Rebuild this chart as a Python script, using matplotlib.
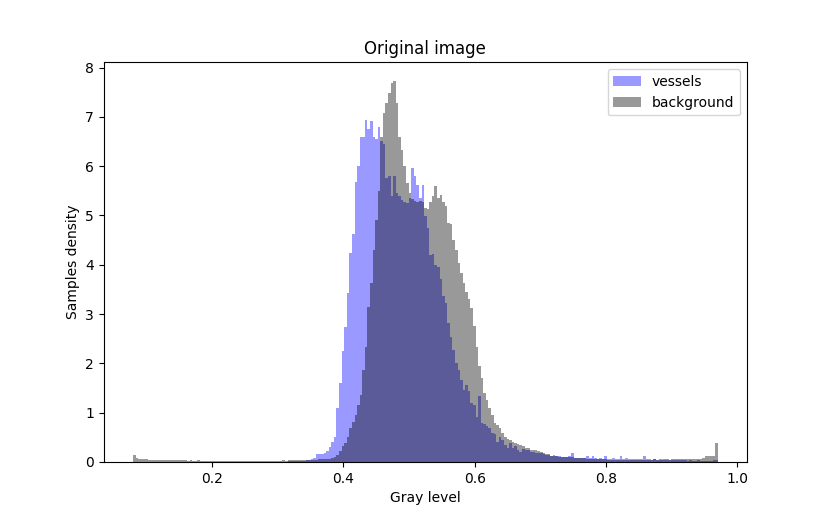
import numpy as np
import matplotlib
matplotlib.use("Agg")
import matplotlib.pyplot as plt

# Histogram bins (gray levels, width ~1/255)
bin_lo = 0.0799
bin_hi = 0.9701
n_bins = 227

background = [
    0.14, 0.08, 0.06, 0.06, 0.05, 0.05, 0.04, 0.04, 0.04, 0.04,
    0.04, 0.03, 0.04, 0.03, 0.03, 0.04, 0.03, 0.03, 0.03, 0.03,
    0.03, 0.02, 0.03, 0.02, 0.02, 0.03, 0.02, 0.02, 0.02, 0.02,
    0.02, 0.02, 0.02, 0.02, 0.02, 0.02, 0.02, 0.02, 0.02, 0.02,
    0.02, 0.02, 0.02, 0.02, 0.02, 0.02, 0.02, 0.02, 0.02, 0.02,
    0.02, 0.02, 0.02, 0.02, 0.02, 0.02, 0.02, 0.02, 0.03, 0.02,
    0.03, 0.03, 0.03, 0.03, 0.03, 0.03, 0.03, 0.04, 0.04, 0.04,
    0.04, 0.04, 0.05, 0.05, 0.05, 0.06, 0.06, 0.08, 0.10, 0.14,
    0.22, 0.32, 0.38, 0.50, 0.68, 0.80, 0.95, 1.15, 1.35, 1.87,
    2.34, 3.15, 3.63, 4.30, 4.90, 5.49, 6.60, 7.08, 7.29, 7.49,
    7.69, 7.72, 7.29, 6.60, 6.33, 6.00, 5.66, 5.46, 5.33, 5.29,
    5.27, 5.30, 5.27, 5.15, 5.12, 5.27, 5.39, 5.59, 5.36, 5.42,
    5.27, 5.20, 4.85, 4.83, 4.50, 4.30, 4.04, 3.83, 3.63, 3.45,
    3.30, 3.12, 2.75, 2.34, 1.94, 1.70, 1.40, 1.25, 1.10, 0.95,
    0.79, 0.75, 0.69, 0.59, 0.51, 0.47, 0.45, 0.41, 0.38, 0.36,
    0.34, 0.33, 0.29, 0.28, 0.25, 0.25, 0.24, 0.23, 0.20, 0.19,
    0.17, 0.16, 0.12, 0.12, 0.12, 0.10, 0.10, 0.09, 0.09, 0.09,
    0.09, 0.07, 0.07, 0.07, 0.07, 0.07, 0.05, 0.05, 0.05, 0.05,
    0.05, 0.05, 0.05, 0.05, 0.04, 0.04, 0.04, 0.04, 0.04, 0.04,
    0.04, 0.04, 0.04, 0.04, 0.04, 0.04, 0.04, 0.04, 0.04, 0.04,
    0.04, 0.04, 0.05, 0.04, 0.05, 0.04, 0.05, 0.05, 0.04, 0.05,
    0.05, 0.05, 0.05, 0.06, 0.05, 0.06, 0.06, 0.06, 0.06, 0.06,
    0.06, 0.07, 0.11, 0.11, 0.12, 0.11, 0.39,
]

vessels = [
    0.0, 0.0, 0.0, 0.0, 0.0, 0.0, 0.0, 0.0, 0.0, 0.0,
    0.0, 0.0, 0.0, 0.0, 0.0, 0.0, 0.0, 0.0, 0.0, 0.0,
    0.0, 0.0, 0.0, 0.0, 0.0, 0.0, 0.0, 0.0, 0.0, 0.0,
    0.0, 0.0, 0.0, 0.0, 0.0, 0.0, 0.0, 0.0, 0.0, 0.0,
    0.0, 0.0, 0.0, 0.0, 0.0, 0.0, 0.0, 0.0, 0.0, 0.0,
    0.005, 0.005, 0.005, 0.005, 0.005, 0.005, 0.005, 0.005, 0.005, 0.005,
    0.01, 0.01, 0.01, 0.01, 0.01, 0.02, 0.02, 0.04, 0.04, 0.05,
    0.08, 0.16, 0.16, 0.17, 0.18, 0.22, 0.30, 0.40, 0.50, 1.10,
    1.60, 2.25, 2.74, 3.43, 4.24, 4.63, 5.67, 6.00, 6.60, 6.60,
    6.94, 6.75, 6.92, 6.60, 6.55, 6.80, 6.50, 6.45, 5.75, 5.80,
    5.40, 5.80, 5.45, 5.40, 5.32, 5.28, 5.25, 5.35, 5.97, 5.80,
    5.62, 5.35, 5.62, 4.98, 4.75, 4.20, 4.22, 4.00, 3.95, 3.70,
    3.36, 3.22, 2.82, 2.54, 2.27, 2.00, 1.87, 1.66, 1.46, 1.55,
    1.43, 1.19, 1.15, 0.92, 1.33, 0.79, 0.76, 0.72, 0.69, 0.59,
    0.56, 0.41, 0.51, 0.45, 0.35, 0.28, 0.38, 0.28, 0.33, 0.24,
    0.21, 0.26, 0.25, 0.24, 0.20, 0.20, 0.19, 0.19, 0.18, 0.17,
    0.14, 0.14, 0.13, 0.14, 0.12, 0.12, 0.10, 0.10, 0.10, 0.12,
    0.18, 0.08, 0.07, 0.08, 0.07, 0.07, 0.12, 0.07, 0.12, 0.07,
    0.06, 0.07, 0.06, 0.12, 0.06, 0.06, 0.07, 0.06, 0.06, 0.11,
    0.06, 0.07, 0.05, 0.06, 0.05, 0.06, 0.05, 0.06, 0.12, 0.05,
    0.05, 0.04, 0.05, 0.04, 0.04, 0.05, 0.04, 0.03, 0.04, 0.03,
    0.03, 0.03, 0.04, 0.03, 0.03, 0.02, 0.03, 0.02, 0.02, 0.03,
    0.02, 0.02, 0.02, 0.02, 0.02, 0.03, 0.04,
]

labels = ["vessels", "background"]

edges = np.linspace(bin_lo, bin_hi, n_bins + 1)
centers = 0.5 * (edges[:-1] + edges[1:])

fig, ax = plt.subplots(figsize=(8.3, 5.19), dpi=100)
ax.hist(centers, bins=edges, weights=vessels, color="blue", alpha=0.4, label=labels[0])
ax.hist(centers, bins=edges, weights=background, color="black", alpha=0.4, label=labels[1])
ax.set_title("Original image")
ax.set_xlabel("Gray level")
ax.set_ylabel("Samples density")
ax.legend(loc="upper right")
fig.savefig("out.png", dpi=100)
